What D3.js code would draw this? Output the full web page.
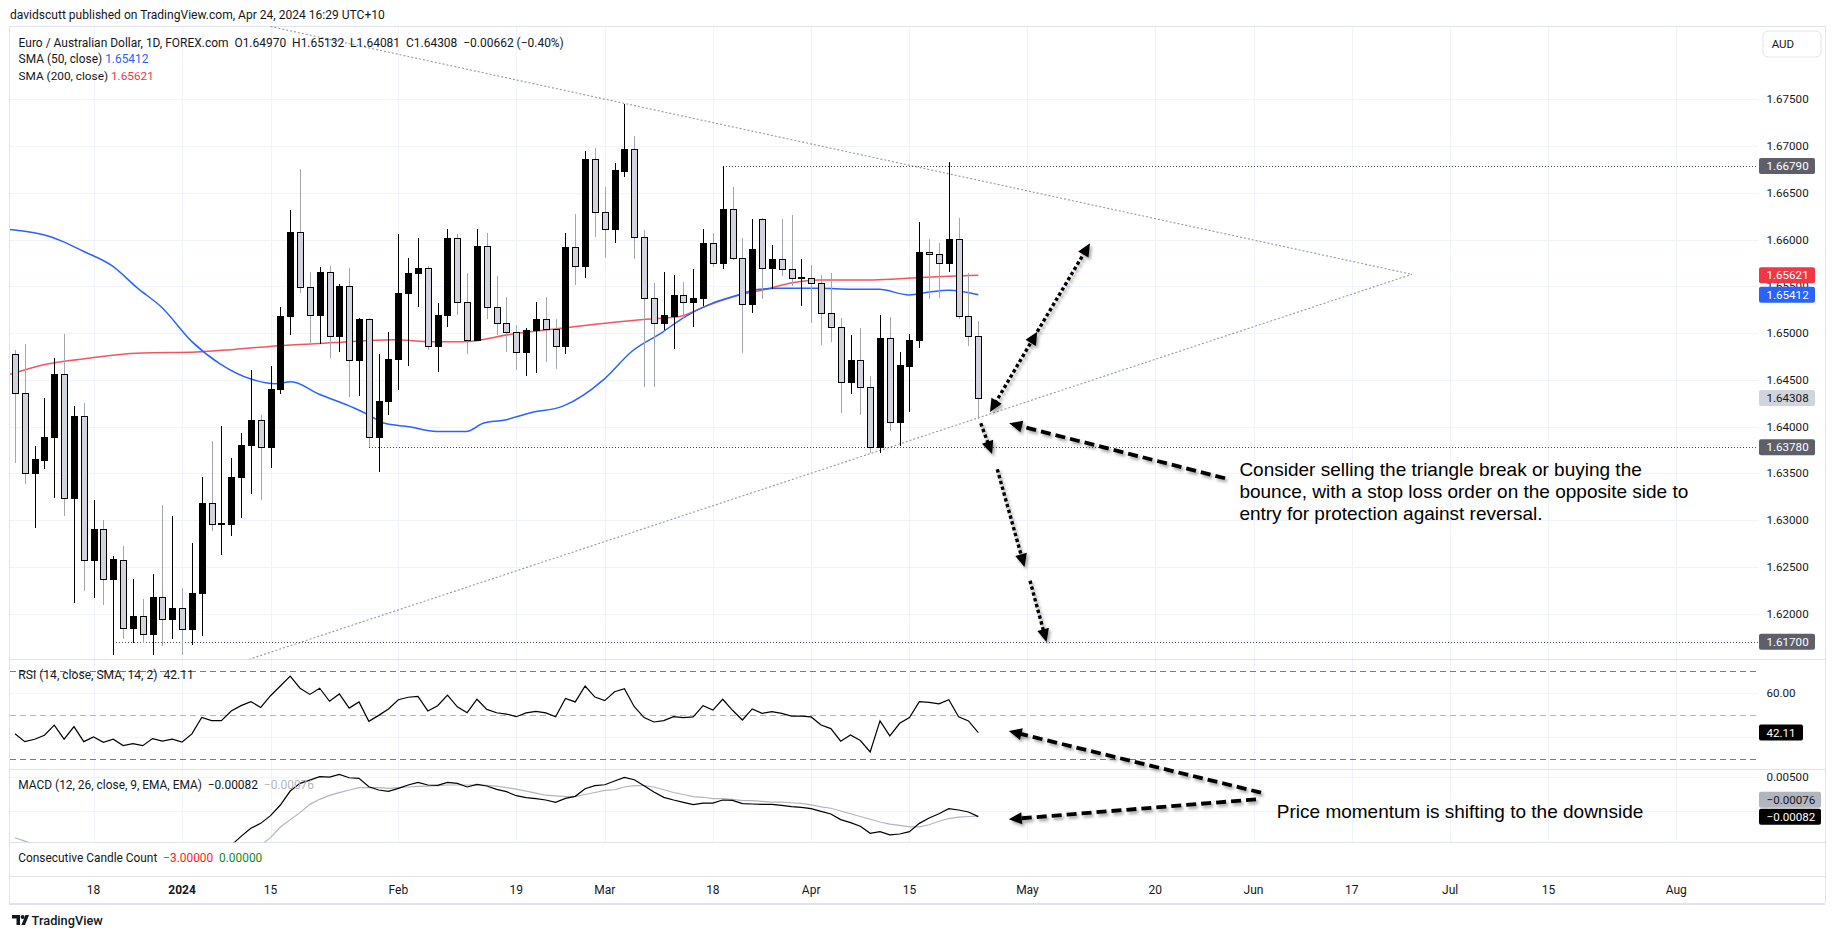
<!DOCTYPE html>
<html><head><meta charset="utf-8">
<script src="https://cdn.jsdelivr.net/npm/d3@7"></script>
<style>
html,body{margin:0;padding:0;background:#fff;}
svg{display:block;}
text{font-family:Roboto,'Liberation Sans',sans-serif;fill:#131722;}
</style></head><body>
<svg id="c" width="1835" height="939"></svg>
<script>
// ---------------- DATA ----------------
// daily candles EUR/AUD, first candle = 2023-12-06 (index -8), last = 2024-04-24 (index 90)
const firstIndex = -8;
const open = [
1.6478,1.6436,1.6350,1.6364,1.6389,1.6456,1.6324,1.6411,1.6257,1.6291,
1.6237,1.6258,1.6185,1.6198,1.6178,1.6218,1.6194,1.6206,1.6184,1.6222,
1.6318,1.6296,1.6296,1.6346,1.6380,1.6407,1.6378,1.6440,1.6518,1.6608,
1.6549,1.6519,1.6565,1.6497,1.6551,1.6471,1.6515,1.6389,1.6428,1.6472,
1.6543,1.6564,1.6570,1.6486,1.6520,1.6602,1.6533,1.6493,1.6593,1.6528,
1.6511,1.6501,1.6480,1.6503,1.6515,1.6505,1.6486,1.6592,1.6572,1.6686,
1.6630,1.6611,1.6674,1.6697,1.6603,1.6538,1.6511,1.6518,1.6541,1.6533,
1.6538,1.6596,1.6575,1.6633,1.6580,1.6531,1.6622,1.6570,1.6579,1.6569,
1.6559,1.6559,1.6554,1.6522,1.6507,1.6448,1.6471,1.6442,1.6378,1.6495,
1.6405,1.6465,1.6493,1.6587,1.6585,1.6575,1.6601,1.6518,1.64970];
const high = [
1.6482,1.6489,1.6379,1.6431,1.6474,1.6499,1.6422,1.6425,1.6322,1.6300,
1.6262,1.6272,1.6237,1.6216,1.6243,1.6316,1.6305,1.6228,1.6276,1.6346,
1.6385,1.6401,1.6367,1.6393,1.6461,1.6413,1.6465,1.6528,1.6632,1.6676,
1.6565,1.6571,1.6572,1.6553,1.6570,1.6516,1.6516,1.6478,1.6501,1.6606,
1.6581,1.6602,1.6572,1.6532,1.6612,1.6606,1.6564,1.6612,1.6607,1.6561,
1.6539,1.6509,1.6506,1.6533,1.6539,1.6515,1.6607,1.6627,1.6695,1.6698,
1.6656,1.6682,1.6745,1.6711,1.6610,1.6554,1.6565,1.6562,1.6555,1.6569,
1.6611,1.6607,1.6679,1.6656,1.6602,1.6622,1.6623,1.6594,1.6622,1.6626,
1.6579,1.6573,1.6562,1.6564,1.6516,1.6498,1.6506,1.6454,1.6519,1.6517,
1.6480,1.6499,1.6619,1.6601,1.6597,1.6683,1.6623,1.6564,1.65132];
const low = [
1.6361,1.6339,1.6292,1.6355,1.6324,1.6305,1.6211,1.6224,1.6217,1.6209,
1.6156,1.6173,1.6169,1.6169,1.6156,1.6166,1.6173,1.6156,1.6167,1.6176,
1.6289,1.6263,1.6283,1.6302,1.6328,1.6322,1.6356,1.6435,1.6498,1.6543,
1.6488,1.6489,1.6473,1.6480,1.6432,1.6433,1.6378,1.6352,1.6413,1.6439,
1.6465,1.6528,1.6482,1.6459,1.6507,1.6520,1.6478,1.6492,1.6515,1.6498,
1.6480,1.6461,1.6454,1.6457,1.6469,1.6462,1.6478,1.6552,1.6559,1.6603,
1.6581,1.6597,1.6667,1.6579,1.6442,1.6443,1.6503,1.6483,1.6515,1.6507,
1.6529,1.6571,1.6569,1.6578,1.6479,1.6522,1.6537,1.6547,1.6561,1.6550,
1.6529,1.6511,1.6487,1.6491,1.6415,1.6435,1.6413,1.6372,1.6372,1.6395,
1.6379,1.6416,1.6484,1.6537,1.6538,1.6565,1.6515,1.6486,1.64081];
const close = [
1.6436,1.6350,1.6365,1.6389,1.6456,1.6324,1.6411,1.6257,1.6291,1.6237,
1.6259,1.6185,1.6198,1.6178,1.6218,1.6194,1.6206,1.6184,1.6222,1.6318,
1.6296,1.6297,1.6346,1.6380,1.6407,1.6378,1.6440,1.6518,1.6608,1.6549,
1.6519,1.6565,1.6497,1.6551,1.6471,1.6515,1.6389,1.6428,1.6472,1.6543,
1.6564,1.6570,1.6486,1.6520,1.6602,1.6533,1.6493,1.6593,1.6528,1.6511,
1.6501,1.6480,1.6503,1.6515,1.6505,1.6486,1.6592,1.6572,1.6686,1.6630,
1.6611,1.6675,1.6697,1.6603,1.6538,1.6511,1.6519,1.6541,1.6533,1.6538,
1.6596,1.6575,1.6633,1.6580,1.6531,1.6590,1.6570,1.6579,1.6569,1.6559,
1.6560,1.6554,1.6522,1.6507,1.6448,1.6471,1.6442,1.6378,1.6495,1.6405,
1.6466,1.6493,1.6587,1.6585,1.6575,1.6601,1.6518,1.6497,1.64308];

// moving averages: [bar index, value]
const sma50 = [[-8.5,1.6611],[-4.3,1.6603],[-3.1,1.6598],[-1.1,1.6588],[1.9,1.6572],[4.5,1.6548],[6.9,1.6528],[10,1.6491],[12.9,1.6467],[16,1.6451],[18.5,1.6446],[20.1,1.6448],[22.9,1.6435],[26.5,1.6420],[27.9,1.6413],[29.5,1.6404],[32.1,1.6400],[34.9,1.6395],[37.9,1.6395],[39.7,1.6404],[41.7,1.6407],[44.5,1.6415],[47.75,1.6422],[51.95,1.6451],[54.8,1.6481],[57.85,1.6501],[59.9,1.6516],[62.9,1.6532],[65,1.6539],[67.7,1.6547],[69.7,1.6548],[73.8,1.6548],[77.2,1.6547],[79.9,1.6547],[82.95,1.6541],[85,1.6544],[87,1.6546],[90,1.65412]];
const sma200 = [[-8.5,1.6456],[-4.7,1.6467],[-1.5,1.6472],[4.9,1.6479],[10.5,1.6480],[14.5,1.6483],[19.3,1.6487],[24.5,1.6490],[30.5,1.6493],[34.5,1.6491],[37.7,1.6491],[42.5,1.6499],[47.3,1.6505],[53.2,1.6512],[56.2,1.6515],[59.6,1.6518],[62.3,1.6529],[65,1.6539],[68.4,1.6547],[71.1,1.6554],[73.8,1.6557],[79.3,1.6557],[83.3,1.6559],[87,1.6561],[90,1.65621]];

// RSI(14), one value per bar
const rsi = [
41.6,38.0,39.1,40.9,45.5,39.1,44.8,38.0,40.1,37.7,
39.1,36.2,37.1,36.2,39.4,38.2,39.1,37.8,41.5,49.0,
47.5,47.5,51.9,54.3,56.1,53.5,58.8,63.2,67.7,62.2,
59.4,62.2,56.3,59.6,53.2,56.0,47.2,49.9,52.8,57.0,
58.1,58.5,51.9,54.3,59.1,53.8,51.1,57.2,52.6,51.1,
50.5,49.3,51.0,51.7,51.0,49.3,57.6,56.0,63.2,58.2,
56.6,60.6,62.0,53.8,48.9,46.9,47.5,49.3,48.9,49.2,
54.3,52.3,57.2,52.2,47.8,52.8,50.8,51.6,50.8,49.6,
49.6,49.2,45.5,43.9,38.2,41.0,38.5,33.3,47.4,40.6,
46.3,48.9,56.1,55.8,55.1,57.0,49.3,47.4,42.11];
// MACD line and signal, one value per bar
const macd = [
-0.0058,-0.0065,-0.0072,-0.0076,-0.0078,-0.0084,-0.0084,-0.0090,-0.0093,-0.0097,
-0.0098,-0.0102,-0.0104,-0.0106,-0.0105,-0.0105,-0.0103,-0.0103,-0.0099,-0.0088,
-0.0080,-0.0072,-0.0050,-0.0037,-0.00252,-0.0018,-0.00068,0.00087,0.00291,0.00403,
0.00451,0.0050,0.00495,0.00534,0.00485,0.00476,0.00354,0.00306,0.00286,0.0033,
0.00379,0.00417,0.00379,0.00374,0.00417,0.00403,0.0035,0.00388,0.00364,0.00316,
0.00282,0.00223,0.00194,0.0018,0.0016,0.00126,0.00184,0.00214,0.00325,0.00369,
0.00383,0.00437,0.0049,0.00456,0.00369,0.00277,0.00199,0.0016,0.00126,0.00092,
0.00116,0.00116,0.0016,0.00155,0.00107,0.00102,0.00097,0.00097,0.00083,0.00063,
0.00053,0.00034,-0.00005,-0.00044,-0.00126,-0.0017,-0.00223,-0.00325,-0.00301,-0.00349,
-0.00335,-0.00301,-0.0018,-0.00102,-0.00039,0.00034,0.00015,-0.00015,-0.00082];
const signal = [
-0.0039,-0.0044,-0.0049,-0.0054,-0.0058,-0.0062,-0.0066,-0.0069,-0.0073,-0.0076,
-0.0080,-0.0083,-0.0086,-0.0089,-0.0091,-0.0093,-0.0095,-0.0096,-0.0097,-0.0095,
-0.0092,-0.0088,-0.0081,-0.0072,-0.0062,-0.0050,-0.00388,-0.00233,-0.00126,-0.00024,
0.00097,0.0017,0.00228,0.00267,0.00306,0.0034,0.0034,0.0034,0.0033,0.0034,
0.0035,0.00359,0.00364,0.00369,0.00379,0.00379,0.00379,0.00379,0.00374,0.00364,
0.0034,0.0032,0.0029,0.0026,0.0023,0.0022,0.0021,0.0021,0.0024,0.0027,
0.0030,0.0031,0.0035,0.0037,0.0037,0.0035,0.0031,0.0027,0.0024,0.0021,
0.0020,0.0018,0.0018,0.0017,0.0015,0.0015,0.0014,0.0013,0.0013,0.0012,
0.0011,0.0009,0.0006,0.0004,0.0000,-0.0004,-0.0008,-0.0012,-0.0016,-0.0019,
-0.0021,-0.0023,-0.0023,-0.0020,-0.0015,-0.0011,-0.0009,-0.0008,-0.00076];

// axes
const priceTicks = [1.675,1.670,1.665,1.660,1.655,1.650,1.645,1.640,1.635,1.630,1.625,1.620];
const rsiBands = [70,50,30];
const rsiGrid = [60,40];
const rsiTickLabels = [60];
const macdGrid = [0.005,0];
const macdTickLabels = [0.005];
const timeTicks = [["2023-12-18","18",0],["2024-01-02","2024",1],["2024-01-15","15",0],["2024-02-01","Feb",0],["2024-02-19","19",0],["2024-03-01","Mar",0],["2024-03-18","18",0],["2024-04-01","Apr",0],["2024-04-15","15",0],["2024-05-01","May",0],["2024-05-20","20",0],["2024-06-03","Jun",0],["2024-06-17","17",0],["2024-07-01","Jul",0],["2024-07-15","15",0],["2024-08-01","Aug",0]];
const holidays = ["2023-12-25","2024-01-01"];

// drawings: horizontal levels [start bar, price]
const levels = [[64,1.66790],[28,1.63780],[2,1.61700]];
// triangle trend lines [[bar,price],[bar,price]]
const trendLines = [[[18,1.6828],[134.1,1.6563]],[[10,1.6131],[134.1,1.6563]]];
// price marker labels on the axis
const priceMarkers = [[1.66790,"#5d606b","#ffffff"],[1.65621,"#f23645","#ffffff"],[1.65412,"#2962ff","#ffffff"],[1.64308,"#d1d4dc","#131722"],[1.63780,"#5d606b","#ffffff"],[1.61700,"#5d606b","#ffffff"]];
// annotation arrows: pane, [bar,value] from, [bar,value] to, style, head at start
const arrows = [
 ["main",[91.19,1.64158],[96.0,1.65017],"dot",true],
 ["main",[96.0,1.65017],[101.36,1.65962],"dot",false],
 ["main",[90.25,1.64037],[91.4,1.63709],"dot",false],
 ["main",[91.93,1.63545],[94.7,1.6250],"dot",false],
 ["main",[95.26,1.62353],[96.94,1.61698],"dot",false],
 ["main",[115.1,1.63449],[93.15,1.64037],"dash",false],
 ["rsi",[118.76,14.9],[93.1,42.8],"dash",false],
 ["macd",[118.25,0.0017],[93.1,-0.00121],"dash",false]
];
const note1 = ["Consider selling the triangle break or buying the","bounce, with a stop loss order on the opposite side to","entry for protection against reversal."];
const note2 = "Price momentum is shifting to the downside";

// ---------------- LAYOUT ----------------
const W=1835, L=10, R=1758, RB=1825;
const mainTop=26, mainBot=659.3, rsiBot=769.3, macdBot=842.3, cntBot=876, axBot=903;

// trading calendar (weekdays minus holidays)
const cal=[]; {let d=new Date(Date.UTC(2023,11,6)); while(cal.length<200){const s=d.toISOString().slice(0,10);const w=d.getUTCDay(); if(w!==0&&w!==6&&!holidays.includes(s)) cal.push(s); d.setUTCDate(d.getUTCDate()+1);} }
const barOf = s => cal.indexOf(s)+firstIndex;

const x = d3.scaleLinear().domain([-8,90]).range([14.96,978.3]);
const yP = d3.scaleLinear().domain([1.61516,1.68286]).range([659,26]);
const yR = d3.scaleLinear().domain([30,70]).range([759.3,671]);
const yM = d3.scaleLinear().domain([0,0.005]).range([811,776.7]);
const scales = {main:yP, rsi:yR, macd:yM};

const svg = d3.select("#c");
const defs = svg.append("defs");
function clip(id,y0,y1){defs.append("clipPath").attr("id",id).append("rect").attr("x",L).attr("y",y0).attr("width",R-L).attr("height",y1-y0);}
clip("cMain",mainTop,mainBot); clip("cRsi",mainBot,rsiBot); clip("cMacd",rsiBot,macdBot);
clip("cAll",mainTop,macdBot);
const f=defs.append("filter").attr("id","sh").attr("x","-20%").attr("y","-20%").attr("width","140%").attr("height","140%");
f.append("feDropShadow").attr("dx",2).attr("dy",2.5).attr("stdDeviation",1.6).attr("flood-color","#000").attr("flood-opacity",0.35);

svg.append("rect").attr("width",W).attr("height",939).attr("fill","#fff");

// grid
const grid = svg.append("g").attr("stroke","#f0f3fa").attr("stroke-width",1).attr("shape-rendering","crispEdges");
timeTicks.forEach(t=>{const xx=Math.round(x(barOf(t[0])))+0.5; grid.append("line").attr("x1",xx).attr("x2",xx).attr("y1",mainTop).attr("y2",macdBot);});
priceTicks.forEach(p=>{const yy=Math.round(yP(p))+0.5; grid.append("line").attr("x1",L).attr("x2",R).attr("y1",yy).attr("y2",yy);});
rsiGrid.forEach(v=>{const yy=Math.round(yR(v))+0.5; grid.append("line").attr("x1",L).attr("x2",R).attr("y1",yy).attr("y2",yy);});
macdGrid.forEach(v=>{const yy=Math.round(yM(v))+0.5; grid.append("line").attr("x1",L).attr("x2",R).attr("y1",yy).attr("y2",yy);});

// frame
const fr = svg.append("g").attr("stroke","#e0e3eb").attr("stroke-width",1).attr("shape-rendering","crispEdges");
[mainTop,mainBot,rsiBot,macdBot,cntBot].forEach(y=>fr.append("line").attr("x1",L-1).attr("x2",RB).attr("y1",Math.round(y)+0.5).attr("y2",Math.round(y)+0.5));
fr.append("line").attr("x1",L-1).attr("x2",RB).attr("y1",axBot+0.5).attr("y2",axBot+0.5).attr("stroke-width",2);
fr.append("line").attr("x1",L-0.5).attr("x2",L-0.5).attr("y1",mainTop).attr("y2",axBot);
fr.append("line").attr("x1",RB+0.5).attr("x2",RB+0.5).attr("y1",mainTop).attr("y2",axBot);

// RSI bands
rsiBands.forEach(v=>{svg.append("line").attr("x1",L).attr("x2",R).attr("y1",Math.round(yR(v))+0.5).attr("y2",Math.round(yR(v))+0.5)
  .attr("stroke",v===50?"#b2b5be":"#787b86").attr("stroke-dasharray","6 4").attr("stroke-width",1).attr("shape-rendering","crispEdges");});

// main pane content
const gm = svg.append("g").attr("clip-path","url(#cMain)");
// trend lines
trendLines.forEach(tl=>gm.append("line").attr("x1",x(tl[0][0])).attr("y1",yP(tl[0][1])).attr("x2",x(tl[1][0])).attr("y2",yP(tl[1][1]))
  .attr("stroke","#9598a1").attr("stroke-width",1.1).attr("stroke-dasharray","2 2"));
// level lines
levels.forEach(lv=>{const yy=Math.round(yP(lv[1]))+0.5; gm.append("line").attr("x1",x(lv[0])).attr("x2",R).attr("y1",yy).attr("y2",yy)
  .attr("stroke","#434651").attr("stroke-width",1).attr("stroke-dasharray","1 2").attr("shape-rendering","crispEdges");});
// SMAs
const smaLine = d3.line().x(d=>x(d[0])).y(d=>yP(d[1])).curve(d3.curveMonotoneX);
gm.append("path").attr("d",smaLine(sma200)).attr("fill","none").attr("stroke","#f23645").attr("stroke-opacity",0.85).attr("stroke-width",1.5);
gm.append("path").attr("d",smaLine(sma50)).attr("fill","none").attr("stroke","#2962ff").attr("stroke-width",1.5);
// candles
const cg = gm.append("g").attr("shape-rendering","crispEdges");
open.forEach((o,i)=>{
  const bar=i+firstIndex, c=close[i], up=c>=o, cx=Math.round(x(bar));
  cg.append("line").attr("x1",cx+0.5).attr("x2",cx+0.5).attr("y1",yP(high[i])).attr("y2",yP(low[i]))
    .attr("stroke",up?"#000":"#a3a6af").attr("stroke-width",1);
  const top=yP(Math.max(o,c)), bot=yP(Math.min(o,c));
  cg.append("rect").attr("x",cx-2.5).attr("width",6).attr("y",Math.round(top)+0.5).attr("height",Math.max(1,Math.round(bot)-Math.round(top)))
    .attr("fill",up?"#000":"#d1d4dc").attr("stroke","#000").attr("stroke-width",1);
});

// RSI
const gr = svg.append("g").attr("clip-path","url(#cRsi)");
gr.append("path").attr("d",d3.line().x((d,i)=>x(i+firstIndex)).y(d=>yR(d))(rsi)).attr("fill","none").attr("stroke","#000").attr("stroke-width",1.2);
// MACD
const gM = svg.append("g").attr("clip-path","url(#cMacd)");
const mLine = d3.line().x((d,i)=>x(i+firstIndex)).y(d=>yM(d));
gM.append("path").attr("d",mLine(signal)).attr("fill","none").attr("stroke","#b2b5be").attr("stroke-width",1.2);
gM.append("path").attr("d",mLine(macd)).attr("fill","none").attr("stroke","#000").attr("stroke-width",1.2);

// ---------------- TEXT ----------------
function fitText(t,target){const w=t.node().getComputedTextLength(); const fs=parseFloat(t.style("font-size")); t.style("font-size",(fs*target/w)+"px"); return fs*target/w;}
function legend(xx,yy,segs,target,gap){
  const t=svg.append("text").attr("x",xx).attr("y",yy).attr("dominant-baseline","central").style("font-size","12px").style("white-space","pre").attr("xml:space","preserve");
  segs.forEach((s,i)=>t.append("tspan").style("fill",s[1]).text((i?(gap||"  "):"")+s[0]));
  fitText(t,target); return t;}
const hdr = svg.append("text").attr("x",10).attr("y",15).attr("dominant-baseline","central").style("font-size","12px").text("davidscutt published on TradingView.com, Apr 24, 2024 16:29 UTC+10");
fitText(hdr,375);
legend(18.6,42.7,[["Euro / Australian Dollar, 1D, FOREX.com","#131722"],["O1.64970","#131722"],["H1.65132","#131722"],["L1.64081","#131722"],["C1.64308","#131722"],["\u22120.00662 (\u22120.40%)","#131722"]],546);
legend(18.6,59,[["SMA (50, close)","#131722"],["1.65412","#2962ff"]],130," ");
legend(18.6,75.7,[["SMA (200, close)","#131722"],["1.65621","#f23645"]],135.4," ");
legend(18.3,675,[["RSI (14, close, SMA, 14, 2)","#131722"],["42.11","#131722"]],175.7);
legend(18.3,785,[["MACD (12, 26, close, 9, EMA, EMA)","#131722"],["\u22120.00082","#131722"],["\u22120.00076","#b2b5be"]],296);
legend(18.3,857.7,[["Consecutive Candle Count","#131722"],["\u22123.00000","#ff1a1a"],["0.00000","#138a13"]],244.4);

// price axis
const fmt5 = d3.format(".5f");
const axFs = 11.6;
priceTicks.forEach(p=>svg.append("text").attr("x",1766.5).attr("y",yP(p)).attr("dominant-baseline","central").style("font-size",axFs+"px").text(fmt5(p)));
rsiTickLabels.forEach(v=>svg.append("text").attr("x",1766.5).attr("y",yR(v)).attr("dominant-baseline","central").style("font-size",axFs+"px").text(d3.format(".2f")(v)));
macdTickLabels.forEach(v=>svg.append("text").attr("x",1766.5).attr("y",yM(v)).attr("dominant-baseline","central").style("font-size",axFs+"px").text(fmt5(v)));
function marker(yy,txt,bg,fg,w){svg.append("rect").attr("x",1759).attr("y",yy-8).attr("width",w).attr("height",16).attr("rx",2).attr("fill",bg);
  svg.append("text").attr("x",1766.5).attr("y",yy).attr("dominant-baseline","central").style("font-size",axFs+"px").style("fill",fg).text(txt);}
priceMarkers.forEach(m=>marker(yP(m[0]),fmt5(m[0]),m[1],m[2],56));
marker(yR(rsi[rsi.length-1]),d3.format(".2f")(rsi[rsi.length-1]),"#000","#fff",44);
const lastM=macd[macd.length-1], lastS=signal[signal.length-1];
marker(yM(lastM)-17,fmt5(lastS).replace("-","\u2212"),"#b2b5be","#131722",62);
marker(yM(lastM),fmt5(lastM).replace("-","\u2212"),"#000","#fff",62);
// AUD button
svg.append("rect").attr("x",1763).attr("y",31).attr("width",58).attr("height",26).attr("rx",5).attr("fill","#fff").attr("stroke","#e0e3eb");
svg.append("text").attr("x",1771.7).attr("y",44).attr("dominant-baseline","central").style("font-size","11.5px").text("AUD");

// time axis
timeTicks.forEach(t=>svg.append("text").attr("x",x(barOf(t[0]))).attr("y",889.5).attr("text-anchor","middle").attr("dominant-baseline","central")
  .style("font-size","12px").style("font-weight",t[2]?"700":"400").text(t[1]));

// footer logo
const lg=svg.append("g").attr("fill","#131722");
lg.append("path").attr("d","M12,915 h8 v10 h-3.5 v-6.5 h-4.5 z");
lg.append("circle").attr("cx",22.6).attr("cy",917).attr("r",2);
lg.append("path").attr("d","M25.5,915 h3.5 l-4,10 h-3.6 z");
const tvT=svg.append("text").attr("x",31.6).attr("y",920.5).attr("dominant-baseline","central").style("font-size","12px").style("font-weight","500").text("TradingView");
fitText(tvT,71.4);

// ---------------- ANNOTATIONS ----------------
const ga = svg.append("g").attr("filter","url(#sh)");
function head(px,py,ux,uy){const HL=13,HW=6;const nx=-uy,ny=ux;
  ga.append("path").attr("d",`M${px},${py}L${px-ux*HL+nx*HW},${py-uy*HL+ny*HW}L${px-ux*HL-nx*HW},${py-uy*HL-ny*HW}Z`).attr("fill","#000");}
arrows.forEach(a=>{
  const ys=scales[a[0]]; const x1=x(a[1][0]),y1=ys(a[1][1]),x2=x(a[2][0]),y2=ys(a[2][1]);
  const dx=x2-x1,dy=y2-y1,len=Math.hypot(dx,dy),ux=dx/len,uy=dy/len;
  const sx=a[4]?x1+ux*10:x1, sy=a[4]?y1+uy*10:y1;
  ga.append("line").attr("x1",sx).attr("y1",sy).attr("x2",x2-ux*10).attr("y2",y2-uy*10).attr("stroke","#000")
    .attr("stroke-width",a[3]==="dot"?3.4:3.8).attr("stroke-dasharray",a[3]==="dot"?"3.4 2.6":"10 5");
  head(x2,y2,ux,uy); if(a[4]) head(x1,y1,-ux,-uy);
});
const nfs = (()=>{const t=svg.append("text").style("font-family","'Liberation Sans',Arial,sans-serif").style("font-size","16px").text(note1[1]);const fs=fitText(t,449);t.remove();return fs;})();
note1.forEach((s,i)=>svg.append("text").attr("x",x(116.56)).attr("y",yP(1.63538)+i*22).attr("dominant-baseline","central")
  .style("font-family","'Liberation Sans',Arial,sans-serif").style("font-size",nfs+"px").style("fill","#000").text(s));
svg.append("text").attr("x",x(120.37)).attr("y",yM(0)).attr("dominant-baseline","central")
  .style("font-family","'Liberation Sans',Arial,sans-serif").style("font-size",nfs+"px").style("fill","#000").text(note2);
</script>
</body></html>
